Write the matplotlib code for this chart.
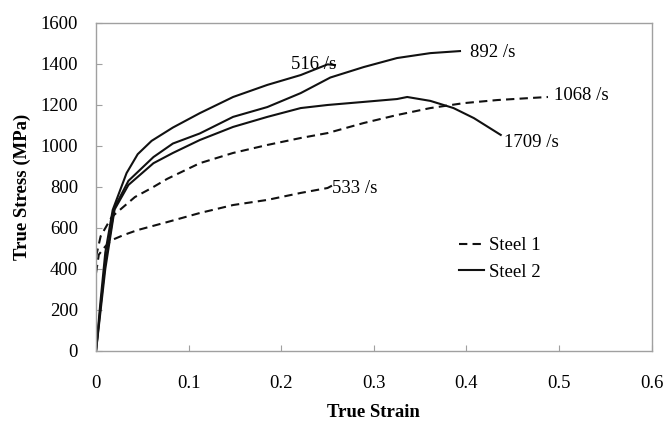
import matplotlib
matplotlib.use('Agg')
import matplotlib.pyplot as plt

plt.rcParams['font.family'] = ['Liberation Serif', 'DejaVu Serif']
plt.rcParams['font.size'] = 13.5

# Steel 1 (dashed)
strain_533 = [0, 0.003, 0.01, 0.017, 0.03, 0.045, 0.077, 0.112, 0.148, 0.185, 0.221, 0.25, 0.257]
stress_533 = [380, 470, 510, 541, 566, 590, 629, 673, 712, 737, 771, 795, 812]

strain_1068 = [0, 0.005, 0.017, 0.028, 0.042, 0.06, 0.077, 0.112, 0.148, 0.185, 0.221, 0.25,
               0.289, 0.325, 0.361, 0.397, 0.433, 0.469, 0.488]
stress_1068 = [460, 560, 654, 697, 751, 795, 840, 916, 966, 1005, 1039, 1063,
               1112, 1151, 1185, 1209, 1224, 1234, 1239]

# Steel 2 (solid)
strain_516 = [0, 0.005, 0.01, 0.018, 0.033, 0.045, 0.06, 0.083, 0.112, 0.148, 0.185, 0.221, 0.25, 0.258]
stress_516 = [0, 250, 480, 688, 868, 960, 1025, 1090, 1160, 1239, 1298, 1346, 1398, 1395]

strain_892 = [0, 0.005, 0.01, 0.02, 0.035, 0.062, 0.083, 0.112, 0.148, 0.185, 0.221, 0.253,
              0.289, 0.325, 0.361, 0.393]
stress_892 = [0, 220, 430, 700, 830, 946, 1012, 1061, 1142, 1190, 1258, 1334,
              1385, 1429, 1453, 1463]

strain_1709 = [0, 0.005, 0.01, 0.02, 0.035, 0.062, 0.083, 0.112, 0.148, 0.185, 0.221, 0.25,
               0.289, 0.325, 0.336, 0.361, 0.386, 0.408, 0.437]
stress_1709 = [0, 200, 400, 690, 810, 916, 966, 1029, 1093, 1142, 1185, 1200,
               1215, 1229, 1239, 1220, 1185, 1136, 1054]

fig = plt.figure(figsize=(6.65, 4.21), dpi=100)
ax = fig.add_axes([0.1444, 0.1663, 0.8356, 0.7791])

dash = (0, (4, 2.5))
c = '#111111'
ax.plot(strain_533, stress_533, color=c, lw=1.5, linestyle=dash, label='Steel 1')
ax.plot(strain_1068, stress_1068, color=c, lw=1.5, linestyle=dash)
ax.plot(strain_516, stress_516, color=c, lw=1.5, label='Steel 2')
ax.plot(strain_892, stress_892, color=c, lw=1.5)
ax.plot(strain_1709, stress_1709, color=c, lw=1.5)

# rate labels
ax.text(0.21, 1398, '516 /s', ha='left', va='center')
ax.text(0.404, 1455, '892 /s', ha='left', va='center')
ax.text(0.494, 1244, '1068 /s', ha='left', va='center')
ax.text(0.44, 1015, '1709 /s', ha='left', va='center')
ax.text(0.255, 795, '533 /s', ha='left', va='center')

ax.set_xlim(0, 0.6)
ax.set_ylim(0, 1600)
ax.set_xticks([0, 0.1, 0.2, 0.3, 0.4, 0.5, 0.6])
ax.set_xticklabels(['0', '0.1', '0.2', '0.3', '0.4', '0.5', '0.6'])
ax.set_yticks(range(0, 1601, 200))

for s in ax.spines.values():
    s.set_color('#a0a0a0')
    s.set_linewidth(1)

ax.tick_params(axis='both', direction='in', length=4, color='#a0a0a0')
ax.tick_params(axis='x', pad=17)
ax.tick_params(axis='y', pad=13)

ax.set_xlabel('True Strain', fontweight='bold', labelpad=9)
ax.set_ylabel('True Stress (MPa)', fontweight='bold', labelpad=7)

ax.legend(loc='center left', bbox_to_anchor=(0.622, 0.28), frameon=False,
          handlelength=1.35, handletextpad=0.25, labelspacing=0.5)

plt.savefig('out.png', dpi=100)
